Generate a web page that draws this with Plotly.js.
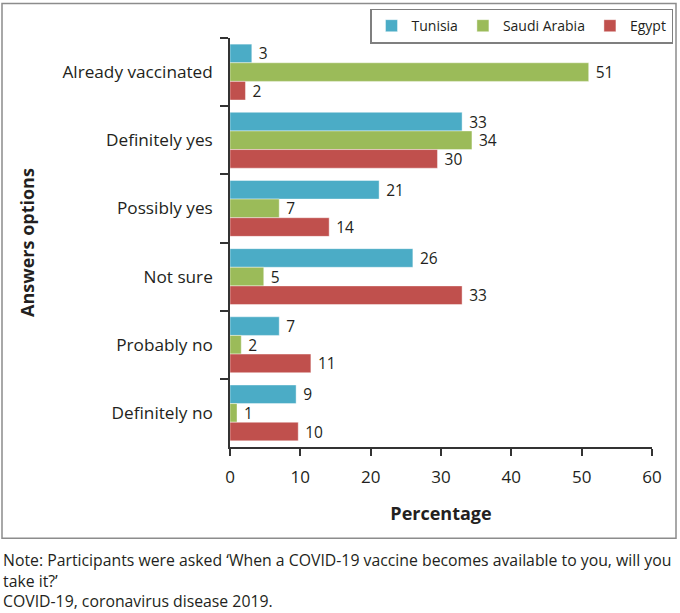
<!DOCTYPE html>
<html>
<head>
<meta charset="utf-8">
<script src="https://cdn.plot.ly/plotly-3.0.1.min.js"></script>
<style>
  html, body { margin: 0; padding: 0; background: #ffffff; }
  #chart { width: 680px; height: 613px; }
</style>
</head>
<body>
<div id="chart"></div>
<script>
// ---- data ----
var categories = ["Already vaccinated", "Definitely yes", "Possibly yes", "Not sure", "Probably no", "Definitely no"];
var seriesNames = ["Tunisia", "Saudi Arabia", "Egypt"];
var tunisiaValues = [3.1, 33.0, 21.2, 26.0, 7.0, 9.4];
var saudiValues = [51.0, 34.4, 7.0, 4.8, 1.6, 1.0];
var egyptValues = [2.2, 29.5, 14.1, 33.0, 11.5, 9.7];
var tunisiaLabels = ["3", "33", "21", "26", "7", "9"];
var saudiLabels = ["51", "34", "7", "5", "2", "1"];
var egyptLabels = ["2", "30", "14", "33", "11", "10"];
var xTickValues = [0, 10, 20, 30, 40, 50, 60];
var xTitle = "Percentage";
var yTitle = "Answers options";
var noteLines = [
  "Note: Participants were asked \u2018When a COVID-19 vaccine becomes available to you, will you",
  "take it?\u2019",
  "COVID-19, coronavirus disease 2019."
];

// ---- styling / layout ----
var colors = ["#4bacc6", "#9bbb59", "#c0504d"];
var FONT = "'Open Sans', 'Noto Sans', sans-serif";
var TEXT = "#231f20";
var W = 680, H = 613;
var L = 230, R = 28, T = 37.5, B = 165.5;
var pw = W - L - R, ph = H - T - B;
function px(x) { return (x - L) / pw; }
function py(y) { return (H - B - y) / ph; }

var valueSets = [tunisiaValues, saudiValues, egyptValues];
var labelSets = [tunisiaLabels, saudiLabels, egyptLabels];

var traces = seriesNames.map(function (name, i) {
  return {
    type: "bar",
    orientation: "h",
    name: name,
    y: categories,
    x: valueSets[i],
    text: labelSets[i],
    texttemplate: "\u00a0%{text}",
    textposition: "outside",
    constraintext: "none",
    cliponaxis: false,
    textfont: { family: FONT, size: 15.5, color: TEXT },
    marker: { color: colors[i], line: { color: "rgba(255,255,255,0.6)", width: 0.7 } },
    hoverinfo: "x+y+name"
  };
});

var layout = {
  width: W,
  height: H,
  margin: { l: L, r: R, t: T, b: B, pad: 0, autoexpand: false },
  paper_bgcolor: "#ffffff",
  plot_bgcolor: "#ffffff",
  font: { family: FONT, color: TEXT, size: 15 },
  barmode: "group",
  bargap: 0.18,
  bargroupgap: 0,
  showlegend: true,
  legend: {
    orientation: "h",
    x: px(673), xanchor: "right",
    y: py(8), yanchor: "top",
    bgcolor: "#ffffff",
    bordercolor: "#7f7f7f",
    borderwidth: 1.5,
    font: { family: FONT, size: 14, color: TEXT },
    traceorder: "normal",
    itemclick: false
  },
  xaxis: {
    range: [0, 60],
    tickvals: xTickValues,
    ticks: "outside",
    ticklen: 7,
    tickwidth: 1.5,
    tickcolor: "#333333",
    showline: true,
    linecolor: "#333333",
    linewidth: 1.5,
    showgrid: false,
    zeroline: false,
    ticklabelstandoff: 7,
    tickfont: { family: FONT, size: 17, color: TEXT },
    title: { text: xTitle, font: { family: FONT, size: 18, color: TEXT, weight: "bold" }, standoff: 20 },
    fixedrange: true
  },
  yaxis: {
    type: "category",
    autorange: "reversed",
    ticks: "outside",
    tickson: "boundaries",
    ticklen: 8,
    tickwidth: 1.5,
    tickcolor: "#333333",
    showline: true,
    linecolor: "#333333",
    linewidth: 1.5,
    showgrid: false,
    zeroline: false,
    ticklabelstandoff: 12,
    tickfont: { family: FONT, size: 17.2, color: TEXT },
    title: { text: yTitle, font: { family: FONT, size: 18, color: TEXT, weight: "bold" }, standoff: 23 },
    fixedrange: true
  },
  shapes: [
    {
      type: "rect", xref: "paper", yref: "paper",
      x0: px(2), x1: px(676), y0: py(539), y1: py(3),
      line: { color: "#8c8c8c", width: 1.5 },
      fillcolor: "rgba(0,0,0,0)",
      layer: "below"
    }
  ],
  annotations: [
    {
      xref: "paper", yref: "paper",
      x: px(1), y: py(548), xanchor: "left", yanchor: "top", align: "left",
      text: noteLines.join("<br>"), showarrow: false,
      font: { family: FONT, size: 15.8, color: TEXT }
    }
  ]
};

Plotly.newPlot("chart", traces, layout, { displayModeBar: false, staticPlot: false, responsive: false });
</script>
</body>
</html>
